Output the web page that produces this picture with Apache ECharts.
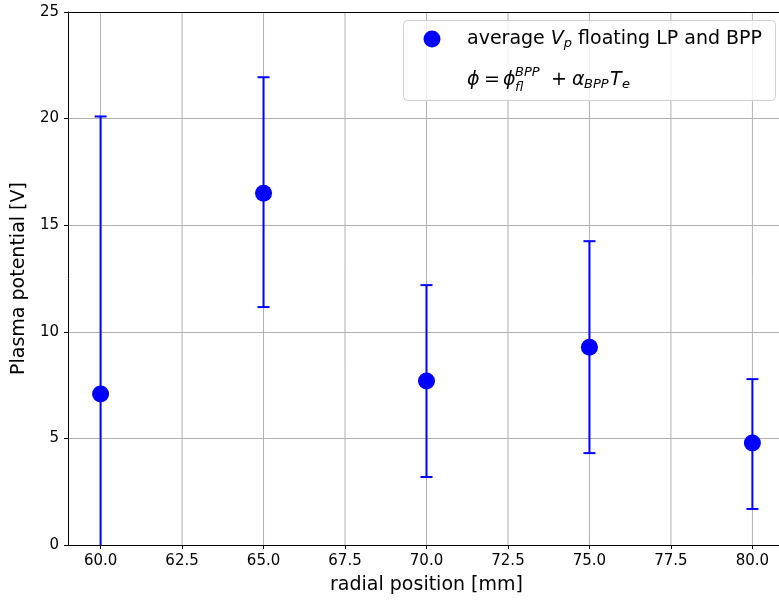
<!DOCTYPE html>
<html>
<head>
<meta charset="utf-8">
<script src="https://cdn.jsdelivr.net/npm/echarts@6/dist/echarts.min.js"></script>
<style>
  html, body { margin: 0; padding: 0; background: #fff; }
  #chart { width: 779px; height: 601px; }
</style>
</head>
<body>
<div id="chart"></div>
<script>
// radial positions [mm] and averaged plasma potential [V]
const positions = [60, 65, 70, 75, 80];
const potential = [7.08, 16.5, 7.69, 9.28, 4.78];
const errLow = [-5.9, 11.16, 3.19, 4.31, 1.69];
const errHigh = [20.1, 21.94, 12.19, 14.25, 7.78];

const xTicks = [60, 62.5, 65, 67.5, 70, 72.5, 75, 77.5, 80];

const FONT = 'DejaVu Sans';
const BLUE = '#0000ff';

const chart = echarts.init(document.getElementById('chart'), null, { renderer: 'canvas' });

const pointData = positions.map((x, i) => [x, potential[i]]);
const barData = positions.map((x, i) => [x, errLow[i], errHigh[i]]);

// error bar: vertical line + caps, clipped to the grid
function renderErr(params, api) {
  const x = api.value(0);
  const lo = api.coord([x, api.value(1)]);
  const hi = api.coord([x, api.value(2)]);
  const cw = 6;
  const style = { stroke: BLUE, lineWidth: 2 };
  const cs = params.coordSys;
  const clipY = v => Math.max(cs.y, Math.min(cs.y + cs.height, v));
  const kids = [
    { type: 'line', shape: { x1: lo[0], y1: clipY(lo[1]), x2: hi[0], y2: clipY(hi[1]) }, style: style }
  ];
  if (lo[1] <= cs.y + cs.height) {
    kids.push({ type: 'line', shape: { x1: lo[0] - cw, y1: lo[1], x2: lo[0] + cw, y2: lo[1] }, style: style });
  }
  if (hi[1] >= cs.y) {
    kids.push({ type: 'line', shape: { x1: hi[0] - cw, y1: hi[1], x2: hi[0] + cw, y2: hi[1] }, style: style });
  }
  return { type: 'group', children: kids };
}

// legend drawn by hand (second entry is a formula with sub/superscripts)
const lx = 467, ly1 = 39, ly2 = 80;
const mt = (dx, y, text, size, italic) => ({
  type: 'text', x: lx + dx, y: y, z: 12,
  style: {
    text: text, fill: '#000', font: (italic ? 'italic ' : '') + size + 'px ' + FONT,
    verticalAlign: 'middle'
  }
});

const legendGraphic = [
  {
    type: 'rect', shape: { x: 403.5, y: 20.5, width: 372, height: 80, r: 4 },
    style: { fill: 'rgba(255,255,255,0.8)', stroke: '#d0d0d0', lineWidth: 1 }, z: 10
  },
  {
    type: 'circle', shape: { cx: 432, cy: ly1, r: 8.5 }, style: { fill: BLUE }, z: 11
  },
  {
    type: 'text', x: lx, y: ly1, z: 11,
    style: {
      text: 'average {i|V}{s|p} floating LP and BPP',
      fill: '#000', font: '19px ' + FONT, verticalAlign: 'middle',
      rich: {
        i: { fontStyle: 'italic', fontSize: 19, fontFamily: FONT },
        s: { fontStyle: 'italic', fontSize: 13, fontFamily: FONT, padding: [9, 0, 0, 0] }
      }
    }
  },
  mt(0, ly2, 'ϕ', 19, true),
  mt(17, ly2, '=', 19, false),
  mt(36, ly2, 'ϕ', 19, true),
  mt(48, ly2 - 7, 'BPP', 13, true),
  mt(48, ly2 + 8, 'fl', 13, true),
  mt(84, ly2, '+', 19, false),
  mt(105, ly2, 'α', 19, true),
  mt(117, ly2 + 5, 'BPP', 13, true),
  mt(143, ly2, 'T', 19, true),
  mt(155, ly2 + 5, 'e', 13, true)
];

chart.setOption({
  animation: false,
  backgroundColor: '#fff',
  textStyle: { fontFamily: FONT },
  grid: { left: 68, top: 12, width: 717, height: 533, show: false, outerBoundsMode: 'none', containLabel: false },
  xAxis: {
    type: 'value', min: 59, max: 81,
    name: 'radial position [mm]', nameLocation: 'middle', nameGap: 31,
    nameTextStyle: { fontSize: 19, color: '#000', fontFamily: FONT },
    axisLine: { show: true, onZero: false, lineStyle: { color: '#000', width: 1 } },
    axisTick: { show: true, length: 4, lineStyle: { color: '#000' }, customValues: xTicks },
    axisLabel: {
      color: '#000', fontSize: 15, margin: 9, customValues: xTicks,
      formatter: v => v.toFixed(1)
    },
    splitLine: { show: false }
  },
  yAxis: {
    type: 'value', min: 0, max: 25, interval: 5,
    name: 'Plasma potential [V]', nameLocation: 'middle', nameGap: 37,
    nameTextStyle: { fontSize: 19, color: '#000', fontFamily: FONT },
    axisLine: { show: true, lineStyle: { color: '#000', width: 1 } },
    axisTick: { show: true, length: 4, lineStyle: { color: '#000' } },
    axisLabel: { color: '#000', fontSize: 15, margin: 9 },
    splitLine: { show: true, lineStyle: { color: '#b0b0b0', width: 1 } }
  },
  series: [
    {
      // vertical grid lines at the x tick values
      type: 'custom', silent: true, z: 0,
      data: xTicks.map(v => [v]),
      renderItem: (params, api) => {
        const p = api.coord([api.value(0), 0]);
        const cs = params.coordSys;
        return {
          type: 'line',
          shape: { x1: p[0], y1: cs.y, x2: p[0], y2: cs.y + cs.height },
          style: { stroke: '#b0b0b0', lineWidth: 1 }
        };
      }
    },
    {
      // top spine
      type: 'custom', silent: true, z: 1,
      data: [[0]],
      renderItem: (params) => {
        const cs = params.coordSys;
        return {
          type: 'line',
          shape: { x1: cs.x, y1: cs.y + 0.5, x2: cs.x + cs.width, y2: cs.y + 0.5 },
          style: { stroke: '#000', lineWidth: 1 }
        };
      }
    },
    {
      type: 'custom', z: 3, clip: false,
      data: barData,
      renderItem: renderErr
    },
    {
      type: 'scatter', z: 4,
      data: pointData,
      symbol: 'circle', symbolSize: 17,
      itemStyle: { color: BLUE, opacity: 1 }
    }
  ],
  graphic: legendGraphic
});
</script>
</body>
</html>
